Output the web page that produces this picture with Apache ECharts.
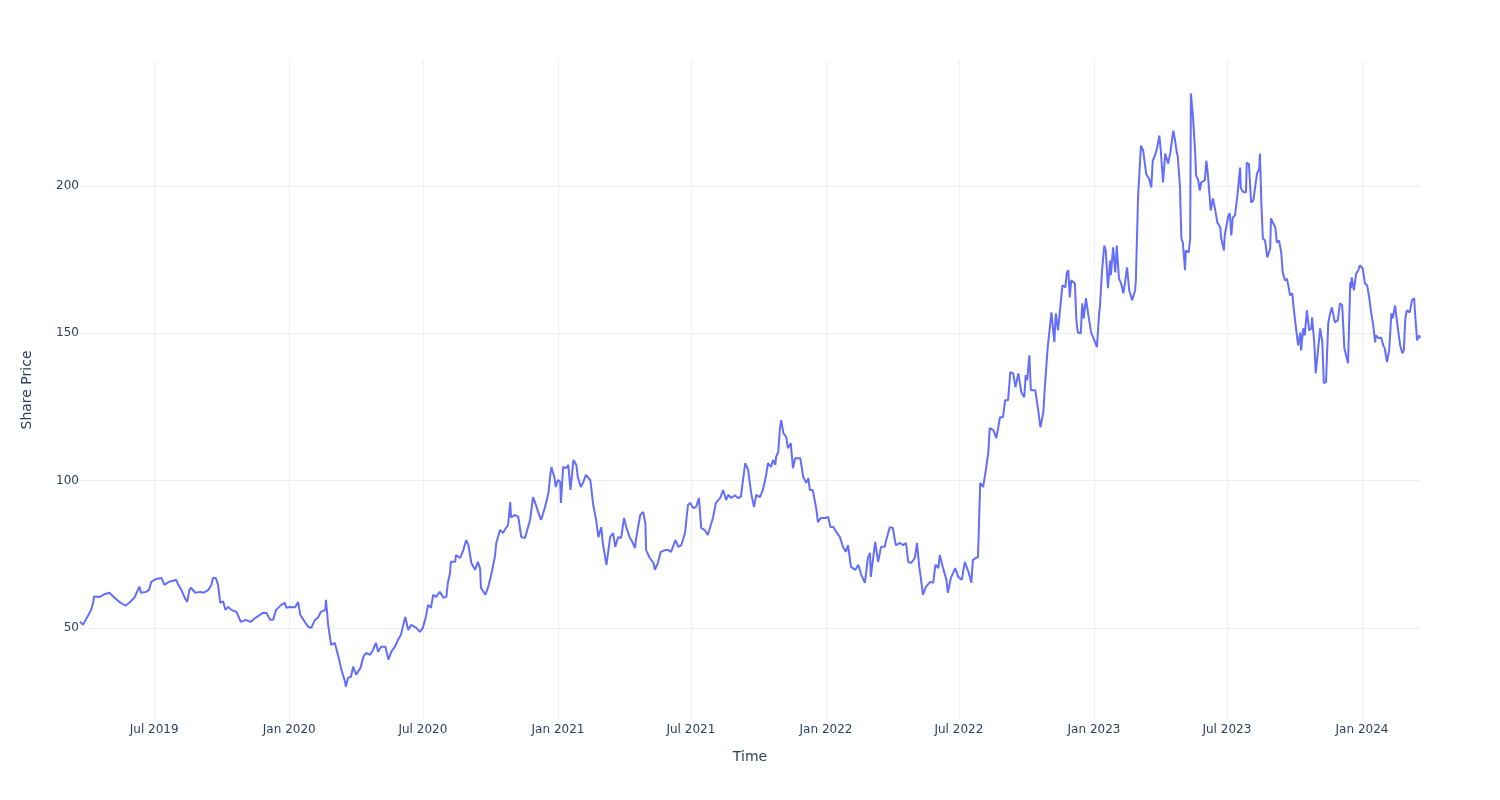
<!DOCTYPE html>
<html><head><meta charset="utf-8">
<script src="https://cdn.jsdelivr.net/npm/echarts@6/dist/echarts.min.js"></script>
<style>html,body{margin:0;padding:0;background:#fff}#chart{width:1500px;height:800px}</style>
</head><body><div id="chart"></div>
<script>
const dates = [
'2019-03-22','2019-03-26','2019-04-06','2019-04-09','2019-04-10','2019-04-18','2019-04-25','2019-05-01','2019-05-08','2019-05-14',
'2019-05-23','2019-05-28','2019-06-04','2019-06-11','2019-06-13','2019-06-20','2019-06-24','2019-06-27','2019-07-04','2019-07-11',
'2019-07-15','2019-07-21','2019-07-27','2019-07-31','2019-08-03','2019-08-07','2019-08-12','2019-08-15','2019-08-18','2019-08-20',
'2019-08-26','2019-09-02','2019-09-06','2019-09-13','2019-09-17','2019-09-19','2019-09-23','2019-09-26','2019-09-29','2019-10-03',
'2019-10-06','2019-10-10','2019-10-14','2019-10-21','2019-10-23','2019-10-27','2019-11-03','2019-11-09','2019-11-16','2019-11-22',
'2019-11-26','2019-12-01','2019-12-06','2019-12-10','2019-12-14','2019-12-21','2019-12-26','2019-12-28','2020-01-02','2020-01-09',
'2020-01-13','2020-01-16','2020-01-23','2020-01-27','2020-01-31','2020-02-05','2020-02-09','2020-02-13','2020-02-19','2020-02-20',
'2020-02-23','2020-02-27','2020-03-03','2020-03-08','2020-03-12','2020-03-17','2020-03-18','2020-03-21','2020-03-25','2020-03-28',
'2020-04-01','2020-04-07','2020-04-11','2020-04-15','2020-04-20','2020-04-24','2020-04-28','2020-05-01','2020-05-05','2020-05-11',
'2020-05-15','2020-05-19','2020-05-24','2020-05-28','2020-06-01','2020-06-07','2020-06-11','2020-06-15','2020-06-22','2020-06-27',
'2020-07-01','2020-07-05','2020-07-08','2020-07-12','2020-07-15','2020-07-19','2020-07-24','2020-07-29','2020-08-02','2020-08-04',
'2020-08-07','2020-08-08','2020-08-14','2020-08-15','2020-08-21','2020-08-25','2020-08-29','2020-09-01','2020-09-05','2020-09-10',
'2020-09-14','2020-09-17','2020-09-18','2020-09-24','2020-09-28','2020-10-02','2020-10-07','2020-10-09','2020-10-14','2020-10-18',
'2020-10-22','2020-10-25','2020-10-28','2020-10-29','2020-11-04','2020-11-08','2020-11-12','2020-11-17','2020-11-24','2020-11-28',
'2020-12-02','2020-12-05','2020-12-09','2020-12-14','2020-12-19','2020-12-21','2020-12-23','2020-12-27','2020-12-29','2021-01-01',
'2021-01-04','2021-01-05','2021-01-08','2021-01-12','2021-01-15','2021-01-18','2021-01-22','2021-01-26','2021-01-28','2021-02-01',
'2021-02-04','2021-02-08','2021-02-14','2021-02-18','2021-02-22','2021-02-25','2021-03-01','2021-03-03','2021-03-08','2021-03-13',
'2021-03-17','2021-03-20','2021-03-24','2021-03-28','2021-04-01','2021-04-04','2021-04-09','2021-04-11','2021-04-16','2021-04-17',
'2021-04-23','2021-04-27','2021-04-30','2021-05-01','2021-05-06','2021-05-11','2021-05-13','2021-05-17','2021-05-21','2021-05-27',
'2021-05-31','2021-06-04','2021-06-10','2021-06-14','2021-06-18','2021-06-23','2021-06-27','2021-06-30','2021-07-04','2021-07-08',
'2021-07-12','2021-07-15','2021-07-20','2021-07-24','2021-07-31','2021-08-04','2021-08-10','2021-08-14','2021-08-18','2021-08-21',
'2021-08-25','2021-08-30','2021-09-03','2021-09-07','2021-09-13','2021-09-17','2021-09-21','2021-09-25','2021-09-28','2021-10-03',
'2021-10-07','2021-10-11','2021-10-14','2021-10-18','2021-10-21','2021-10-24','2021-10-25','2021-10-28','2021-10-30','2021-11-01',
'2021-11-04','2021-11-08','2021-11-10','2021-11-14','2021-11-17','2021-11-20','2021-11-27','2021-12-01','2021-12-05','2021-12-08',
'2021-12-10','2021-12-14','2021-12-19','2021-12-21','2021-12-25','2021-12-31','2022-01-04','2022-01-07','2022-01-11','2022-01-15',
'2022-01-20','2022-01-24','2022-01-28','2022-01-31','2022-02-04','2022-02-10','2022-02-14','2022-02-18','2022-02-23','2022-02-27',
'2022-03-02','2022-03-03','2022-03-09','2022-03-13','2022-03-17','2022-03-22','2022-03-24','2022-03-29','2022-04-02','2022-04-06',
'2022-04-12','2022-04-16','2022-04-20','2022-04-23','2022-04-27','2022-05-02','2022-05-05','2022-05-08','2022-05-10','2022-05-13',
'2022-05-17','2022-05-23','2022-05-27','2022-05-30','2022-06-03','2022-06-05','2022-06-09','2022-06-14','2022-06-16','2022-06-20',
'2022-06-26','2022-06-27','2022-06-30','2022-07-05','2022-07-09','2022-07-14','2022-07-18','2022-07-20','2022-07-24','2022-07-27',
'2022-07-30','2022-08-03','2022-08-06','2022-08-10','2022-08-12','2022-08-17','2022-08-21','2022-08-23','2022-08-26','2022-08-30',
'2022-09-02','2022-09-06','2022-09-09','2022-09-13','2022-09-16','2022-09-20','2022-09-24','2022-09-28','2022-09-30','2022-10-02',
'2022-10-05','2022-10-07','2022-10-13','2022-10-17','2022-10-20','2022-10-24','2022-10-26','2022-10-30','2022-11-04','2022-11-08',
'2022-11-10','2022-11-13','2022-11-17','2022-11-19','2022-11-23','2022-11-25','2022-11-27','2022-11-29','2022-12-01','2022-12-06',
'2022-12-08','2022-12-10','2022-12-14','2022-12-16','2022-12-18','2022-12-21','2022-12-24','2022-12-28','2022-12-31','2023-01-02',
'2023-01-05','2023-01-08','2023-01-09','2023-01-12','2023-01-15','2023-01-17','2023-01-20','2023-01-23','2023-01-24','2023-01-27',
'2023-01-30','2023-02-01','2023-02-04','2023-02-07','2023-02-10','2023-02-12','2023-02-15','2023-02-18','2023-02-22','2023-02-26',
'2023-02-27','2023-03-02','2023-03-05','2023-03-06','2023-03-09','2023-03-13','2023-03-17','2023-03-20','2023-03-22','2023-03-25',
'2023-03-28','2023-03-31','2023-04-02','2023-04-05','2023-04-08','2023-04-12','2023-04-15','2023-04-19','2023-04-21','2023-04-24',
'2023-04-25','2023-04-28','2023-04-30','2023-05-02','2023-05-05','2023-05-06','2023-05-10','2023-05-12','2023-05-13','2023-05-16',
'2023-05-19','2023-05-20','2023-05-23','2023-05-25','2023-05-27','2023-06-01','2023-06-03','2023-06-05','2023-06-09','2023-06-12',
'2023-06-15','2023-06-18','2023-06-22','2023-06-23','2023-06-27','2023-06-28','2023-07-03','2023-07-05','2023-07-07','2023-07-09',
'2023-07-12','2023-07-15','2023-07-16','2023-07-19','2023-07-20','2023-07-24','2023-07-27','2023-07-28','2023-07-31','2023-08-03',
'2023-08-06','2023-08-08','2023-08-11','2023-08-14','2023-08-15','2023-08-17','2023-08-19','2023-08-22','2023-08-25','2023-08-29',
'2023-08-30','2023-09-05','2023-09-07','2023-09-10','2023-09-13','2023-09-15','2023-09-18','2023-09-21','2023-09-25','2023-09-28',
'2023-09-30','2023-10-03','2023-10-06','2023-10-09','2023-10-10','2023-10-13','2023-10-15','2023-10-18','2023-10-21','2023-10-24',
'2023-10-25','2023-10-28','2023-10-30','2023-11-05','2023-11-08','2023-11-10','2023-11-13','2023-11-16','2023-11-18','2023-11-21',
'2023-11-25','2023-11-29','2023-12-02','2023-12-05','2023-12-08','2023-12-10','2023-12-13','2023-12-16','2023-12-17','2023-12-18',
'2023-12-21','2023-12-24','2023-12-27','2023-12-29','2024-01-02','2024-01-05','2024-01-08','2024-01-11','2024-01-13','2024-01-16',
'2024-01-19','2024-01-20','2024-01-24','2024-01-27','2024-01-30','2024-02-01','2024-02-04','2024-02-07','2024-02-10','2024-02-12',
'2024-02-15','2024-02-18','2024-02-22','2024-02-25','2024-02-27','2024-02-29','2024-03-02','2024-03-06','2024-03-09','2024-03-12',
'2024-03-13','2024-03-16','2024-03-19','2024-03-20'
];
const prices = [
52.1,51,56,58.5,60.6,60.5,61.5,61.9,60.2,58.9,
57.5,58.5,60.2,64,61.9,62.2,62.9,65.6,66.6,66.9,
64.6,65.6,66,66.3,64.6,62.9,60,58.8,62.9,63.6,
61.9,62.2,61.9,62.9,64.6,66.9,66.9,64.6,58.5,59,
56.1,57.1,56.1,55.4,54.4,52,52.7,52,53.4,54.4,
55.1,55,52.7,52.7,56.1,57.8,58.5,56.8,57.1,57,
58.8,54.4,51.7,50.3,50,52.7,53.4,55.4,56.1,59.5,
51,44.2,44.9,40.2,35.8,31.7,30,33,33.4,36.8,
34.1,36.4,40.2,41.5,40.8,42.5,44.9,41.9,43.6,43.6,
39.2,41.9,43.6,45.9,47.6,53.7,49.3,51,50,48.6,
50,53.7,57.8,56.8,61.2,60.5,62.2,60.2,60.5,65.3,
68.6,72.4,72.4,74.7,73.7,76.4,79.8,78.1,72,69.7,
72.4,70,63.6,61.2,63.9,68,74.1,78.8,83.2,82.2,
83.9,84.9,92.7,87.6,88.3,87.6,80.8,80.5,86.6,94.4,
91.7,89.3,86.6,90.7,95.8,100.8,104.6,101.2,97.8,100.2,
99.5,92.4,104.6,104.2,105.3,96.8,107,105.3,101.2,97.8,
99.2,101.9,100.2,91.7,86.6,80.8,84.2,78.8,71.4,80.8,
82.2,77.5,80.8,80.5,87.3,84.2,80.5,79.8,77.1,79.8,
88.3,89.3,85.6,76.4,73.7,72,69.7,72,75.8,76.4,
76.4,75.8,79.8,77.5,78.1,82.2,91.7,92.4,90.7,91,
94.1,83.9,83.2,81.5,87.3,92.4,94.1,96.8,93.4,95.1,
94.1,95,94.1,94.4,105.9,103.6,95.8,91,95.1,94.4,
96.8,101.2,105.9,104.6,107,105.3,108,109.7,117.1,120.5,
116.1,114.7,111,112.7,104.2,107.6,107.6,101.2,99.2,100.8,
96.8,96.8,90,85.9,87.3,87.3,87.6,84.2,84.2,82.5,
80.8,77.5,75.8,78.1,70.7,69.7,71.4,68,65.3,73.7,
75.4,67.3,79.2,72.4,77.5,77.5,79.8,84.2,83.9,78.1,
78.8,78.1,78.8,72.4,72,73.7,78.8,70.7,67.3,61.2,
63.9,65.6,65.3,71.4,70.3,74.7,70.7,66.3,61.9,66.9,
70.3,70.3,67.3,66.3,72.4,69,65.3,73,73.7,74,
99.2,97.8,102.5,109.3,117.8,117.1,114.4,114.4,121.5,121.5,
127.3,127.3,136.8,136.4,131.7,136.4,130,128.3,135.8,134.1,
142.5,130.7,130.7,123.9,118.1,123.2,131.7,145.3,157.1,147,
156.8,151,161.2,166.3,165.6,170.7,171.4,162.2,168,166.9,
154.4,150.3,150,160.2,155.1,161.9,156.8,150.3,148.6,149,
145.3,156.8,158.8,171.4,179.8,178.1,165.3,174.7,169.7,179.2,
170.7,179.8,168.6,166.9,163.6,166.9,172.4,164.6,161.2,164.6,
168,196.1,209.7,213.7,212,204.2,202.5,199.5,208.6,210.3,
213,217.1,212,201.2,211,207.6,211.4,218.8,216.1,211,
210.3,200.2,182.2,180.8,171.4,178.1,177.5,182.2,231.4,222.9,
210.3,203.6,201.9,198.5,201.2,202,208.6,204.2,191.7,195.8,
192,187.6,185.9,182.5,178.1,183.2,190,190.7,183.2,189.3,
190,196.1,195.5,206.3,199.2,197.8,198,208,207.5,194.4,
195.1,195.5,204.2,205.9,211,193.4,182.2,181.5,175.8,178.8,
189,185.9,180.8,181.5,177.5,170.7,168,168.5,162.9,163.6,
158.5,152,145.9,150.3,144.2,151.7,149.3,157.8,151,151.7,
155.4,146.9,136.4,151.7,146.9,133.1,133.4,153.4,156.1,158.8,
153.7,154.4,160.2,159.5,144.9,145.2,139.8,167.3,165.3,169,
164.6,170.3,171.4,173.1,172,166.9,166.3,161.9,157.8,153.4,
146.9,149.3,148.3,148.6,145.9,144.9,140.2,144.2,156.8,155.1,
159.5,153.4,145.9,143.2,144.2,155.1,157.8,157.1,161.2,161.9,
157.8,147.6,149.3,148.3
];
const xTickDates = ['2019-07-01','2020-01-01','2020-07-01','2021-01-01','2021-07-01','2022-01-01','2022-07-01','2023-01-01','2023-07-01','2024-01-01'];
const xTickLabels = ['Jul 2019','Jan 2020','Jul 2020','Jan 2021','Jul 2021','Jan 2022','Jul 2022','Jan 2023','Jul 2023','Jan 2024'];
const yTicks = [50, 100, 150, 200];
const yRange = [18.7, 242.8];

const toTime = s => { const p = s.split('-').map(Number); return Date.UTC(p[0], p[1] - 1, p[2]); };
const times = dates.map(toTime);
const xTickTimes = xTickDates.map(toTime);
const FONT = '"DejaVu Sans", Verdana, sans-serif';
const TXT = '#2a3f5f';
const GRID = '#ebf0f8';

function tickLabel(v) {
  let best = 0, bd = Infinity;
  xTickTimes.forEach((t, i) => { const d = Math.abs(t - v); if (d < bd) { bd = d; best = i; } });
  return xTickLabels[best];
}

const chart = echarts.init(document.getElementById('chart'), null, {renderer: 'canvas'});
chart.setOption({
  animation: false,
  backgroundColor: '#ffffff',
  grid: {left: 80, right: 80, top: 60, bottom: 80, containLabel: false},
  xAxis: {
    type: 'value', scale: true,
    min: times[0], max: times[times.length - 1],
    name: 'Time', nameLocation: 'middle', nameGap: 30,
    nameTextStyle: {fontFamily: FONT, fontSize: 14, color: TXT},
    axisLine: {show: false}, axisTick: {show: false}, splitLine: {show: false},
    axisLabel: {
      customValues: xTickTimes,
      formatter: tickLabel,
      fontFamily: FONT, fontSize: 12, color: TXT, margin: 4, hideOverlap: false
    }
  },
  yAxis: {
    type: 'value', min: yRange[0], max: yRange[1],
    name: 'Share Price', nameLocation: 'middle', nameGap: 46,
    nameTextStyle: {fontFamily: FONT, fontSize: 14, color: TXT},
    axisLine: {show: false}, axisTick: {show: false}, splitLine: {show: false},
    axisLabel: {customValues: yTicks, fontFamily: FONT, fontSize: 12, color: TXT, margin: 1}
  },
  series: [{
    type: 'line',
    data: times.map((t, i) => [t, prices[i]]),
    showSymbol: false, symbol: 'none',
    lineStyle: {color: '#636efa', width: 2},
    itemStyle: {color: '#636efa'},
    z: 3,
    emphasis: {disabled: true},
    markLine: {
      z: 1, silent: true, symbol: 'none', animation: false,
      label: {show: false},
      emphasis: {disabled: true},
      lineStyle: {color: GRID, width: 1, type: 'solid'},
      data: yTicks.map(v => ({yAxis: v})).concat(xTickTimes.map(t => ({xAxis: t})))
    }
  }]
});
</script>
</body></html>
